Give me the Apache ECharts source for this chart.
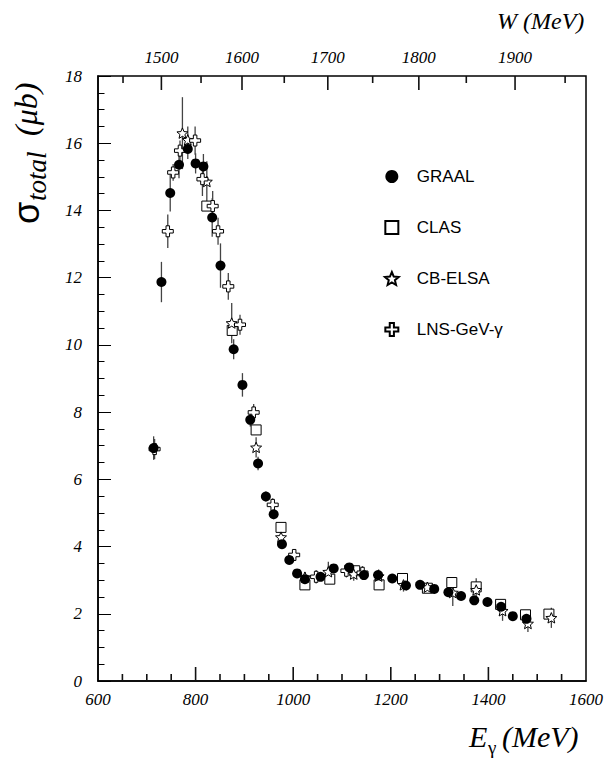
<!DOCTYPE html>
<html><head><meta charset="utf-8">
<script src="https://cdn.jsdelivr.net/npm/echarts@6/dist/echarts.min.js"></script>
<style>html,body{margin:0;padding:0;background:#fff}#c{width:610px;height:761px}</style>
</head><body><div id="c"></div>
<script>
// ---- data ----
const graalE   = [714, 730, 748, 766, 784, 800, 816, 834, 851, 878, 896, 912, 928, 944, 960, 977, 992, 1008, 1024, 1056, 1083, 1115, 1145, 1174, 1203, 1231, 1260, 1289, 1318, 1344, 1371, 1398, 1426, 1450, 1478];
const graalSig = [6.93, 11.87, 14.52, 15.36, 15.83, 15.40, 15.31, 13.79, 12.36, 9.87, 8.81, 7.77, 6.47, 5.49, 4.96, 4.07, 3.60, 3.20, 3.03, 3.10, 3.35, 3.38, 3.15, 3.15, 3.05, 2.84, 2.86, 2.74, 2.64, 2.53, 2.40, 2.35, 2.21, 1.93, 1.85];
const graalErr = [0.35, 0.6, 0.55, 0.4, 0.3, 0.3, 0.37, 0.57, 0.66, 0.3, 0.35, 0.2, 0.2, 0.15, 0.15, 0.12, 0.12, 0.1, 0.1, 0.1, 0.12, 0.12, 0.1, 0.1, 0.1, 0.1, 0.1, 0.1, 0.1, 0.1, 0.1, 0.1, 0.1, 0.1, 0.1];

const clasE   = [823, 875, 924, 975, 1024, 1075, 1126, 1176, 1224, 1275, 1325, 1375, 1425, 1476, 1524];
const clasSig = [14.13, 10.43, 7.47, 4.57, 2.86, 3.03, 3.28, 2.86, 3.05, 2.76, 2.93, 2.80, 2.28, 1.97, 1.99];
const clasErr = [0.15, 0.15, 0.12, 0.1, 0.08, 0.08, 0.08, 0.08, 0.08, 0.08, 0.08, 0.08, 0.08, 0.08, 0.08];

const elsaE   = [773, 784, 823, 874, 924, 975, 1024, 1072, 1124, 1175, 1226, 1275, 1327, 1375, 1429, 1481, 1529];
const elsaSig = [16.30, 16.10, 14.86, 10.65, 6.95, 4.28, 3.09, 3.25, 3.18, 3.12, 2.86, 2.79, 2.63, 2.71, 2.09, 1.71, 1.88];
const elsaErr = [1.07, 0.4, 0.6, 0.6, 0.3, 0.2, 0.15, 0.3, 0.2, 0.2, 0.2, 0.15, 0.4, 0.35, 0.3, 0.25, 0.3];

const lnsE   = [716, 743, 754, 768, 799, 814, 835, 846, 867, 891, 919, 958, 1002, 1047, 1109, 1142];
const lnsSig = [6.90, 13.38, 15.13, 15.78, 16.08, 14.93, 14.13, 13.38, 11.74, 10.60, 7.99, 5.24, 3.75, 3.10, 3.28, 3.22];
const lnsErr = [0.3, 0.5, 0.25, 0.3, 0.42, 0.5, 0.45, 0.4, 0.4, 0.3, 0.25, 0.2, 0.15, 0.2, 0.2, 0.2];

const seriesNames = ['GRAAL', 'CLAS', 'CB-ELSA', 'LNS-GeV-γ'];
const wMajorTicks = [1500, 1600, 1700, 1800, 1900];
const wMinorTicks = [1450, 1550, 1650, 1750, 1850, 1950];
const eTicks = [650, 700, 750, 800, 850, 900, 950, 1000, 1050, 1100, 1150, 1200, 1250, 1300, 1350, 1400, 1450, 1500, 1550];

// ---- helpers ----
const MP = 938.27;
const eFromW = w => (w * w - MP * MP) / (2 * MP);
const Y_MAX = 18, Y_MIN = 0;

const STAR = 'path://M10 0 L12.645 6.36 L19.511 6.910 L14.28 11.39 L15.878 18.090 L10 14.5 L4.122 18.090 L5.72 11.39 L0.489 6.910 L7.355 6.36 Z';
const CROSS = 'path://M3.4 0 H6.6 V3.4 H10 V6.6 H6.6 V10 H3.4 V6.6 H0 V3.4 H3.4 Z';
const SQUARE = 'path://M0 0 H10 V10 H0 Z';

const pts = (E, S) => E.map((e, i) => [e, S[i]]);
const bars = (E, S, R) => E.map((e, i) => [e, S[i] - R[i], S[i] + R[i]]);

function errRender(params, api) {
  const x = api.value(0), lo = api.value(1), hi = api.value(2);
  const p1 = api.coord([x, lo]), p2 = api.coord([x, hi]);
  return { type: 'line', shape: { x1: p1[0], y1: p1[1], x2: p2[0], y2: p2[1] },
           style: { stroke: '#444', lineWidth: 1.3 } };
}
function errSeries(d) {
  return { type: 'custom', renderItem: errRender, data: d, z: 1, silent: true,
           encode: { x: 0, y: [1, 2] } };
}
// x-direction ticks placed through the x scale; dir +1 = down from top edge, -1 = up from bottom edge
function xTickSeries(xs, yEdge, lenFn, dir, labelFn) {
  return { type: 'custom', encode: { x: 0, y: 1 },
    data: xs.map(x => [x, yEdge, lenFn(x)]),
    renderItem: function (params, api) {
      const p = api.coord([api.value(0), api.value(1)]);
      const len = api.value(2);
      const children = [{ type: 'line',
        shape: { x1: p[0], y1: p[1], x2: p[0], y2: p[1] + dir * len },
        style: { stroke: '#111', lineWidth: 1.6 } }];
      if (labelFn) {
        const t = labelFn(params.dataIndex);
        if (t) children.push({ type: 'text', x: p[0], y: p[1] - 10,
          style: { text: t, textAlign: 'center', textVerticalAlign: 'bottom',
                   font: 'italic 17px "Liberation Serif"', fill: '#000' } });
      }
      return { type: 'group', children: children };
    } };
}

const serif = 'Liberation Serif';
const labelStyle = { color: '#000', fontFamily: serif, fontStyle: 'italic', fontSize: 17 };

const chart = echarts.init(document.getElementById('c'), null, { renderer: 'svg' });
chart.setOption({
  animation: false,
  backgroundColor: '#fff',
  grid: { left: 98, right: 24, top: 76, bottom: 80, show: true, borderColor: '#000', borderWidth: 1.5 },
  legend: {
    data: seriesNames, orient: 'vertical', left: 379, top: 163,
    itemWidth: 40, itemHeight: 13, itemGap: 34,
    textStyle: { fontFamily: 'Liberation Sans', fontSize: 17, color: '#000' },
    selectedMode: false
  },
  xAxis: [
    { type: 'value', min: 600, max: 1600, interval: 200,
      axisLine: { show: true, lineStyle: { color: '#000', width: 1.5 } },
      axisTick: { show: false },
      splitLine: { show: false },
      axisLabel: Object.assign({ margin: 10, formatter: v => String(v) }, labelStyle) }
  ],
  yAxis: [
    { type: 'value', min: Y_MIN, max: Y_MAX, interval: 2,
      axisLine: { show: true, lineStyle: { color: '#000', width: 1.5 } },
      axisTick: { show: true, inside: true, length: 13, lineStyle: { color: '#000', width: 1 } },
      minorTick: { show: true, splitNumber: 4, length: 6.5, lineStyle: { color: '#000', width: 1 } },
      splitLine: { show: false },
      axisLabel: Object.assign({ margin: 16 }, labelStyle) }
  ],
  series: [
    xTickSeries(wMajorTicks.map(eFromW), Y_MAX, () => 14, 1, i => String(wMajorTicks[i])),
    xTickSeries(wMinorTicks.map(eFromW), Y_MAX, () => 7, 1, null),
    xTickSeries(eTicks, Y_MIN, x => (x % 200 === 0 ? 14 : 7), -1, null),
    errSeries(bars(graalE, graalSig, graalErr)),
    errSeries(bars(clasE, clasSig, clasErr)),
    errSeries(bars(elsaE, elsaSig, elsaErr)),
    errSeries(bars(lnsE, lnsSig, lnsErr)),
    { name: 'GRAAL', type: 'scatter', symbol: 'circle', symbolSize: 10, z: 5,
      itemStyle: { color: '#000', borderColor: '#000', borderWidth: 0, opacity: 1 },
      data: pts(graalE, graalSig) },
    { name: 'CLAS', type: 'scatter', symbol: SQUARE, symbolSize: 10, symbolKeepAspect: true, z: 3,
      itemStyle: { color: '#fff', borderColor: '#000', borderWidth: 1, opacity: 1 },
      data: pts(clasE, clasSig) },
    { name: 'CB-ELSA', type: 'scatter', symbol: STAR, symbolSize: 11, symbolKeepAspect: true, z: 4,
      itemStyle: { color: '#fff', borderColor: '#000', borderWidth: 1, opacity: 1 },
      data: pts(elsaE, elsaSig) },
    { name: 'LNS-GeV-γ', type: 'scatter', symbol: CROSS, symbolSize: 11, symbolKeepAspect: true, z: 4,
      itemStyle: { color: '#fff', borderColor: '#000', borderWidth: 1, opacity: 1 },
      data: pts(lnsE, lnsSig) }
  ],
  graphic: [
    // bottom axis title  E_γ (MeV)
    { type: 'text', left: 469, top: 721, style: { text: 'E', font: 'italic 30px "Liberation Serif"', fill: '#000' } },
    { type: 'text', left: 488, top: 738, style: { text: 'γ', font: '19px "Liberation Serif"', fill: '#000' } },
    { type: 'text', left: 502, top: 721, style: { text: '(MeV)', font: 'italic 30px "Liberation Serif"', fill: '#000' } },
    // top axis title  W (MeV)
    { type: 'text', left: 497, top: 9, style: { text: 'W (MeV)', font: 'italic 24px "Liberation Serif"', fill: '#000' } },
    // y axis title  σ_total (μb)
    { type: 'group', x: 26, y: 224, rotation: Math.PI / 2, children: [
      { type: 'text', x: 0, y: 0, style: { text: 'σ', font: '36px "Liberation Sans"', fill: '#000', textAlign: 'left', textVerticalAlign: 'middle' } },
      { type: 'text', x: 23, y: 11, style: { text: 'total', font: 'italic 27px "Liberation Serif"', fill: '#000', textAlign: 'left', textVerticalAlign: 'middle' } },
      { type: 'text', x: 88, y: 0, style: { text: '(μb)', font: 'italic 32px "Liberation Serif"', fill: '#000', textAlign: 'left', textVerticalAlign: 'middle' } }
    ] }
  ]
});
</script></body></html>
